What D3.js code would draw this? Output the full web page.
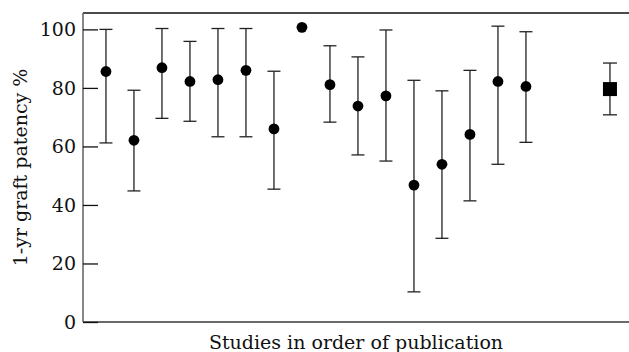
<!DOCTYPE html>
<html>
<head>
<meta charset="utf-8">
<script src="https://cdn.jsdelivr.net/npm/d3@7"></script>
<style>
  body { margin: 0; background: #fff; }
  text { font-family: "DejaVu Serif", serif; fill: #111; }
</style>
</head>
<body>
<svg width="629" height="352"></svg>
<script>
// studies, in order of publication
var studies = [1, 2, 3, 4, 5, 6, 7, 8, 9, 10, 11, 12, 13, 14, 15, 16];
var patency = [85.6, 62.1, 86.9, 82.2, 82.8, 86.0, 66.0, 100.7, 81.1, 73.8, 77.3, 46.8, 53.9, 64.1, 82.2, 80.5];
var lower   = [61.2, 44.8, 69.6, 68.6, 63.3, 63.3, 45.4, null, 68.3, 57.1, 55.0, 10.3, 28.6, 41.4, 53.9, 61.4];
var upper   = [100.0, 79.2, 100.3, 95.9, 100.3, 100.3, 85.7, null, 94.4, 90.6, 99.8, 82.6, 79.0, 86.0, 101.1, 99.2];

// pooled estimate (square)
var pooledPos = 19;
var pooled = [79.6];
var pooledLower = [70.8];
var pooledUpper = [88.5];

var yTicks = [0, 20, 40, 60, 80, 100];

var svg = d3.select("svg"),
    mLeft = 83, mRight = 629, mTop = 13, mBottom = 322;

var x = d3.scaleLinear().domain([0.18, 19.68]).range([mLeft, mRight]);
var y = d3.scaleLinear().domain([0, 105.6]).range([mBottom, mTop]);

var data = studies.map(function(s, i) {
  return { pos: s, val: patency[i], lo: lower[i], hi: upper[i] };
});

// frame lines
svg.append("line")
    .attr("x1", mLeft).attr("x2", mRight).attr("y1", mTop).attr("y2", mTop)
    .attr("stroke", "#111").attr("stroke-width", 1.3);
svg.append("line")
    .attr("x1", mLeft).attr("x2", mRight).attr("y1", mBottom).attr("y2", mBottom)
    .attr("stroke", "#6a6a6a").attr("stroke-width", 2);
svg.append("line")
    .attr("x1", mLeft).attr("x2", mLeft).attr("y1", mTop).attr("y2", mBottom)
    .attr("stroke", "#555").attr("stroke-width", 1.4);

// y axis, ticks pointing inwards
var yAxis = svg.append("g")
    .attr("transform", "translate(" + mLeft + ",0)")
    .call(d3.axisLeft(y).tickValues(yTicks).tickSize(-15).tickPadding(7));
yAxis.select(".domain").remove();
yAxis.selectAll(".tick line").attr("stroke", "#111").attr("stroke-width", 1.3);
yAxis.selectAll(".tick text")
    .attr("font-family", "DejaVu Serif, serif")
    .attr("font-size", 19)
    .attr("fill", "#111");

var g = svg.append("g");

// error bars
var bars = data.filter(function(d) { return d.lo != null; });
g.selectAll(".err")
    .data(bars)
  .enter().append("line")
    .attr("x1", function(d) { return x(d.pos); })
    .attr("x2", function(d) { return x(d.pos); })
    .attr("y1", function(d) { return y(d.lo); })
    .attr("y2", function(d) { return y(d.hi); })
    .attr("stroke", "#222").attr("stroke-width", 1.3);

["lo", "hi"].forEach(function(k) {
  g.selectAll(".cap-" + k)
      .data(bars)
    .enter().append("line")
      .attr("x1", function(d) { return x(d.pos) - 6.5; })
      .attr("x2", function(d) { return x(d.pos) + 6.5; })
      .attr("y1", function(d) { return y(d[k]); })
      .attr("y2", function(d) { return y(d[k]); })
      .attr("stroke", "#222").attr("stroke-width", 1.3);
});

g.selectAll(".dot")
    .data(data)
  .enter().append("circle")
    .attr("cx", function(d) { return x(d.pos); })
    .attr("cy", function(d) { return y(d.val); })
    .attr("r", 5.4)
    .attr("fill", "#000");

// pooled
var px = x(pooledPos);
g.append("line")
    .attr("x1", px).attr("x2", px)
    .attr("y1", y(pooledLower[0])).attr("y2", y(pooledUpper[0]))
    .attr("stroke", "#222").attr("stroke-width", 1.3);
[pooledLower[0], pooledUpper[0]].forEach(function(v) {
  g.append("line")
      .attr("x1", px - 7).attr("x2", px + 7)
      .attr("y1", y(v)).attr("y2", y(v))
      .attr("stroke", "#222").attr("stroke-width", 1.3);
});
g.append("rect")
    .attr("x", px - 7).attr("y", y(pooled[0]) - 7)
    .attr("width", 14).attr("height", 14)
    .attr("fill", "#000");

// axis titles
svg.append("text")
    .attr("x", (mLeft + mRight) / 2)
    .attr("y", 349)
    .attr("text-anchor", "middle")
    .attr("font-size", 19)
    .text("Studies in order of publication");

svg.append("text")
    .attr("transform", "translate(27," + ((mTop + mBottom) / 2) + ") rotate(-90)")
    .attr("text-anchor", "middle")
    .attr("font-size", 19)
    .text("1-yr graft patency %");
</script>
</body>
</html>
